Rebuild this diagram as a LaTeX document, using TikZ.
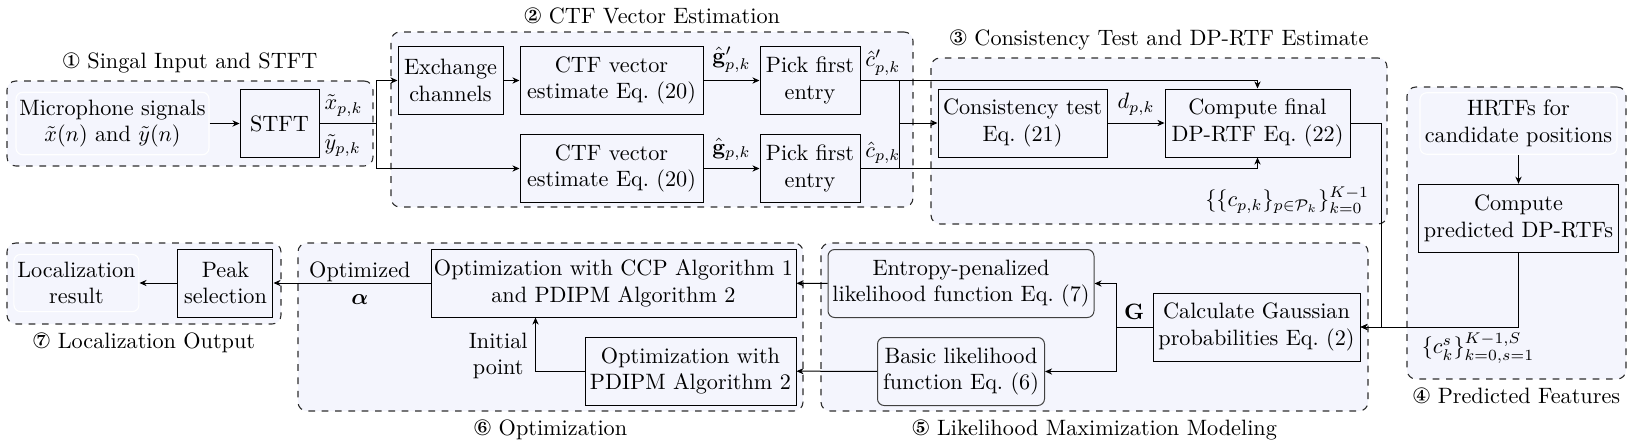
\documentclass[tikz,border=0pt]{standalone}
\usepackage{amsmath,amssymb,bm}
\usepackage{pifont}
\usepackage{xcolor}
\usepackage{tikz}
\usetikzlibrary{arrows.meta,positioning,fit,calc}
\definecolor{groupbg}{HTML}{F4F5FD}
\definecolor{groupline}{HTML}{2E2E2E}
\tikzset{
  block/.style={rectangle, draw=black, align=center, minimum height=30.6pt, inner xsep=1pt, line width=0.45pt},
  softblock/.style={block, rounded corners=3pt, draw=black!75},
  plain/.style={rectangle, rounded corners=3pt, draw=white, align=center, inner xsep=1pt, line width=0.5pt},
  group/.style={rectangle, rounded corners=4pt, dashed, draw=groupline, line width=0.5pt, fill=groupbg, inner sep=0pt},
  flow/.style={-{Stealth[length=3.2pt,width=2.8pt]}, line width=0.45pt},
  link/.style={line width=0.45pt},
}

\begin{document}
\begin{tikzpicture}[x=0.45pt, y=-0.45pt]
  \useasboundingbox (0,0) rectangle (1635,447);
  \node[group, fit={(7,81) (373,166)}, label={above:\ding{172} Singal Input and STFT}] (g1) {};
  \node[group, fit={(391,32) (913,207)}, label={above:\ding{173} CTF Vector Estimation}] (g2) {};
  \node[group, fit={(931,58) (1387,224)}, label={above:\ding{174} Consistency Test and DP-RTF Estimate}] (g3) {};
  \node[group, fit={(1407,87) (1626,379)}, label={below:\ding{175} Predicted Features}] (g4) {};
  \node[group, fit={(821,243) (1368,411)}, label={below:\ding{176} Likelihood Maximization Modeling}] (g5) {};
  \node[group, fit={(298,243) (803,411)}, label={below:\ding{177} Optimization}] (g6) {};
  \node[group, fit={(7,243) (281,324)}, label={below:\ding{178} Localization Output}] (g7) {};

  \node[plain, minimum width=86.85pt, minimum height=26.55pt] (mic) at (112.5,123.5) {Microphone signals\\$\tilde{x}(n)$ and $\tilde{y}(n)$};
  \node[block, minimum width=35.55pt, right=13.5pt of mic] (stft) {STFT};
  \node[block, minimum width=47.25pt] (exch) at (450.5,80.5) {Exchange\\channels};
  \node[block, minimum width=82.35pt, right=7.2pt of exch] (ctfa) {CTF vector\\estimate Eq.~(20)};
  \node[block, minimum width=45pt, right=25.2pt of ctfa] (picka) {Pick first\\entry};
  \node[block, minimum width=82.35pt, below=8.55pt of ctfa] (ctfb) {CTF vector\\estimate Eq.~(20)};
  \node[block, minimum width=45pt, below=8.55pt of picka] (pickb) {Pick first\\entry};
  \node[block, minimum width=76.05pt] (cons) at (1022.5,123) {Consistency test\\Eq.~(21)};
  \node[block, minimum width=83.25pt, right=25.65pt of cons] (final) {Compute final\\DP-RTF Eq.~(22)};
  \node[plain, minimum width=88.65pt, minimum height=26.55pt] (hrtf) at (1518.5,123.5) {HRTFs for\\candidate positions};
  \node[block, minimum width=90pt, below=13.05pt of hrtf] (pred) {Compute\\predicted DP-RTFs};
  \node[block, minimum width=93.15pt] (gauss) at (1256.5,327) {Calculate Gaussian\\probabilities Eq.~(2)};
  \node[softblock, minimum width=119.7pt] (entropy) at (961,283.5) {Entropy-penalized\\likelihood function Eq.~(7)};
  \node[softblock, minimum width=75.15pt, below=8.55pt of entropy] (basic) {Basic likelihood\\function Eq.~(6)};
  \node[block, minimum width=164.25pt] (ccp) at (613.5,283) {Optimization with CCP Algorithm 1\\and PDIPM Algorithm 2};
  \node[block, minimum width=94.95pt, below left=8.55pt and 0pt of ccp.south east] (pdipm) {Optimization with\\PDIPM Algorithm 2};
  \node[block, minimum width=42.75pt, left=70.65pt of ccp] (peak) {Peak\\selection};
  \node[plain, minimum width=56.25pt, minimum height=25.2pt, left=17.1pt of peak] (locres) {Localization\\result};

  \node[anchor=east] (cset) at (1377,200) {$\{\{c_{p,k}\}_{p\in\mathcal{P}_k}\}_{k=0}^{K-1}$};
  \node[anchor=west] (cpred) at (1414,348) {$\{c_k^s\}_{k=0,s=1}^{K-1,S}$};

  \coordinate (fork1) at (376,123.5);
  \coordinate (join2) at (899,123);
  \coordinate (turn3) at (1381,123);
  \coordinate (fork5) at (1116,327);

  \draw[flow] (mic) -- (stft);
  \draw[link] (stft) -- node[above right, inner xsep=2pt, inner ysep=3pt, pos=0] {$\tilde{x}_{p,k}$} node[below right, inner xsep=2pt, inner ysep=5pt, pos=0] {$\tilde{y}_{p,k}$} (fork1);
  \draw[flow] (fork1) |- (exch.west);
  \draw[flow] (fork1) |- (ctfb.west);
  \draw[flow] (exch) -- (ctfa);
  \draw[flow] (ctfa) -- node[above] {$\hat{\mathbf{g}}'_{p,k}$} (picka);
  \draw[flow] (ctfb) -- node[above] {$\hat{\mathbf{g}}_{p,k}$} (pickb);
  \draw[flow] (picka.east) -| node[above right, pos=0, inner sep=2pt] {$\hat{c}'_{p,k}$} (final.north);
  \draw[flow] (pickb.east) -| node[above right, pos=0, inner sep=2pt] {$\hat{c}_{p,k}$} (final.south);
  \draw[link] (join2 |- picka.east) -- (join2 |- pickb.east);
  \draw[flow] (join2) -- (cons);
  \draw[flow] (cons) -- node[above] {$d_{p,k}$} (final);
  \draw[flow] (final.east) -- (turn3) |- (gauss.east);
  \draw[flow] (hrtf) -- (pred);
  \draw[flow] (pred.south) |- (gauss.east);
  \draw[link] (gauss) -- node[above] {$\mathbf{G}$} (fork5);
  \draw[flow] (fork5) |- (entropy.east);
  \draw[flow] (fork5) |- (basic.east);
  \draw[flow] (entropy) -- (ccp);
  \draw[flow] (basic) -- (pdipm);
  \draw[flow] (pdipm.west) -| node[left, pos=0.64, align=center] {Initial\\point} ($(ccp.south west)+(105,0)$);
  \draw[flow] (ccp) -- node[pos=0.45, align=center] {Optimized\\$\bm{\alpha}$} (peak);
  \draw[flow] (peak) -- (locres);
\end{tikzpicture}
\end{document}
